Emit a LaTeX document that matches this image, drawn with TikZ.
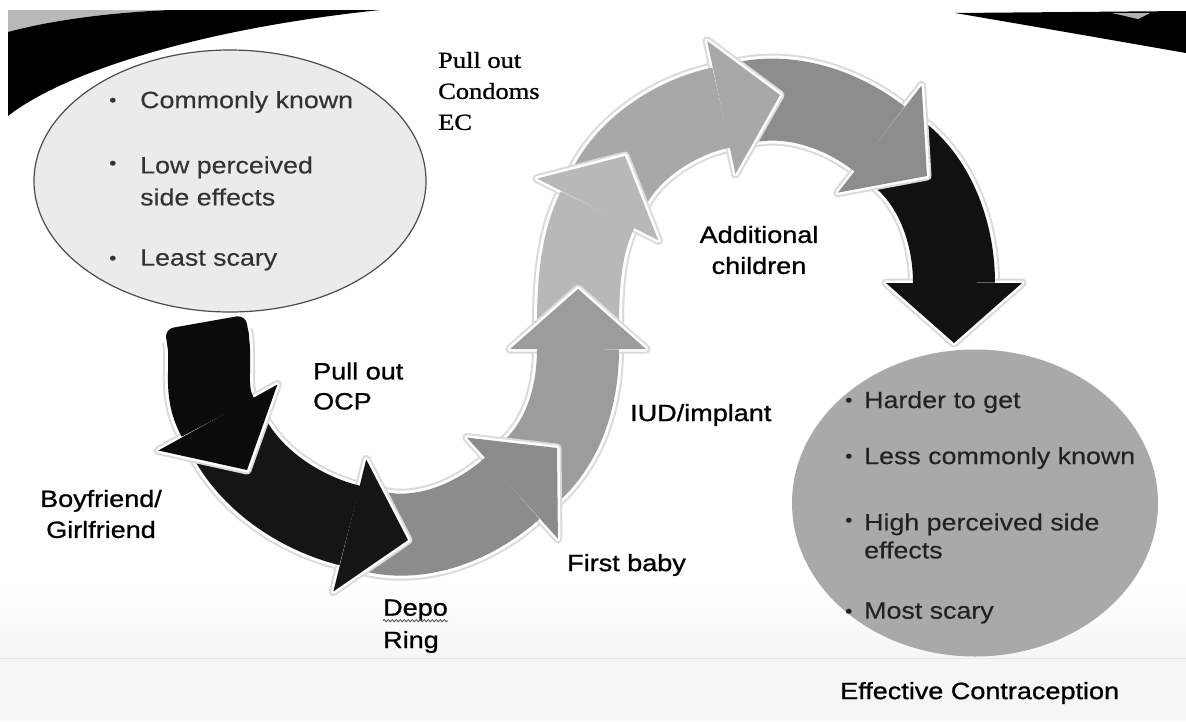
\documentclass[tikz,border=0pt]{standalone}
\usepackage{fontspec}
\setmainfont{Liberation Sans}
\newfontfamily\lbl{Liberation Sans}[FakeStretch=1.15,FakeBold=1.0]
\newfontfamily\itm{Liberation Sans}[FakeStretch=1.14,FakeBold=0.3]
\newfontfamily\srf{Liberation Serif}[FakeStretch=1.15,FakeBold=1.0]
\usetikzlibrary{calc,shapes.geometric,decorations.pathmorphing}

\definecolor{aA}{HTML}{0B0B0B}
\definecolor{aB}{HTML}{151515}
\definecolor{aC}{HTML}{8C8C8C}
\definecolor{aD}{HTML}{9C9C9C}
\definecolor{aE}{HTML}{B8B8B8}
\definecolor{aF}{HTML}{A8A8A8}
\definecolor{aG}{HTML}{8D8D8D}
\definecolor{aH}{HTML}{111111}
\definecolor{lfill}{HTML}{EBEBEB}
\definecolor{rfill}{HTML}{A9A9A9}
\definecolor{ltext}{HTML}{333333}
\definecolor{rtext}{HTML}{222222}
\definecolor{glow}{HTML}{DADADA}

% curved block arrow: #1 tail coord, #2 tail direction, #3 tip coord, #4 tip direction, #5 colour, #6 control length
\newcommand\carrow[6]{%
  \path ($(#3)+({#4+180}:60)$) coordinate (hb);
  \draw[glow, line width=92pt] (#1) .. controls ($(#1)+(#2:#6)$) and ($(hb)+({#4+180}:#6)$) .. (hb);
  \draw[white, line width=88pt] (#1) .. controls ($(#1)+(#2:#6)$) and ($(hb)+({#4+180}:#6)$) .. (hb);
  \draw[glow, line width=9pt, line join=round] ($(hb)!68pt!90:(#3)$) -- (#3) -- ($(hb)!68pt!-90:(#3)$) -- cycle;
  \draw[white, line width=5pt, line join=round] ($(hb)!68pt!90:(#3)$) -- (#3) -- ($(hb)!68pt!-90:(#3)$) -- cycle;
  \draw[#5, line width=82pt] (#1) .. controls ($(#1)+(#2:#6)$) and ($(hb)+({#4+180}:#6)$) .. (hb);
  \fill[#5] ($(hb)!68pt!90:(#3)$) -- (#3) -- ($(hb)!68pt!-90:(#3)$) -- cycle;
}

\tikzset{
  lab/.style={font=\lbl\fontsize{23.5}{30}\selectfont, text=black, inner sep=0pt, align=left, anchor=west},
  labc/.style={font=\lbl\fontsize{23.5}{31}\selectfont, text=black, inner sep=0pt, align=center},
  itl/.style={font=\itm\fontsize{23.5}{32}\selectfont, text=ltext, inner sep=0pt, align=left, anchor=west},
  itr/.style={font=\itm\fontsize{23.5}{28}\selectfont, text=rtext, inner sep=0pt, align=left, anchor=west},
  bul/.style={font=\itm\fontsize{18}{20}\selectfont, inner sep=0pt, anchor=west},
  serif/.style={font=\srf\fontsize{23}{31}\selectfont, text=black, inner sep=0pt, align=left, anchor=west},
}

\begin{document}
\begin{tikzpicture}[x=1pt,y=-1pt]
\useasboundingbox (0,0) rectangle (1186,721);
\fill[white] (0,0) rectangle (1186,721);
% faint bottom band
\shade[top color=white, bottom color=gray!7] (0,580) rectangle (1186,658);
\fill[gray!7] (0,658) rectangle (1186,721);
\draw[gray!18, line width=1pt] (0,658) -- (1186,658);

% top swooshes
\fill[gray!55] (8,10) -- (170,10) .. controls (100,13) and (45,22) .. (8,32) -- cycle;
\fill[black] (8,32) .. controls (45,22) and (100,13) .. (170,10) -- (380,10) .. controls (190,30) and (60,75) .. (8,116) -- cycle;
\fill[black] (955,13) -- (1186,11) -- (1186,53) .. controls (1100,38) and (1020,24) .. (955,13) -- cycle;
\fill[gray!60] (1112,13) -- (1150,13) -- (1138,19) -- cycle;

% ellipses
\node[ellipse, draw=black!70, line width=1.2pt, fill=lfill, minimum width=392pt, minimum height=262pt, inner sep=0pt] (lell) at (230,181) {};
\node[ellipse, fill=rfill, minimum width=366pt, minimum height=307pt, inner sep=0pt] (rell) at (975,503) {};

% arrow tips
\coordinate (P1) at (247,470);
\coordinate (P2) at (408,540);
\coordinate (P3) at (557,448);
\coordinate (P4) at (578,289);
\coordinate (P5) at (625,156);
\coordinate (P6) at (780,95);
\coordinate (P7) at (927,176);
\coordinate (P8) at (954,343);
% arrow tails
\coordinate (T1) at (205,322);
\coordinate (T1b) at ($(T1)+(80:14)$);
\coordinate (T2) at ($(P1)+({61+180}:36)$);
\coordinate (T3) at ($(P2)+({14+180}:36)$);
\coordinate (T4) at ($(P3)+({-42+180}:36)$);
\coordinate (T5) at ($(P4)+({-90+180}:36)$);
\coordinate (T6) at ($(P5)+({-63+180}:36)$);
\coordinate (T7) at ($(P6)+({-12+180}:36)$);
\coordinate (T8) at ($(P7)+({38+180}:36)$);

\carrow{T8}{38}{P8}{90}{aH}{48}
\carrow{T7}{-12}{P7}{38}{aG}{48}
\carrow{T6}{-63}{P6}{-12}{aF}{46}
\carrow{T5}{-90}{P5}{-63}{aE}{38}
\carrow{T4}{-42}{P4}{-90}{aD}{46}
\carrow{T3}{14}{P3}{-42}{aC}{50}
\carrow{T2}{61}{P2}{14}{aB}{50}
% first arrow with rounded top
\draw[white, line width=5pt, rounded corners=9pt] ($(T1)+(-10:41)$) -- ($(T1)+(170:41)$) -- ($(T1)+(170:41)+(80:30)$) -- ($(T1)+(-10:41)+(80:30)$) -- cycle;
\carrow{T1b}{80}{P1}{61}{aA}{32}
\fill[aA, rounded corners=9pt] ($(T1)+(-10:41)$) -- ($(T1)+(170:41)$) -- ($(T1)+(170:41)+(80:30)$) -- ($(T1)+(-10:41)+(80:30)$) -- cycle;

% left ellipse text
\node[bul, text=ltext] (lb1) at (109,102) {•};
\node[itl] (li1) at (140,102) {Commonly known};
\node[bul, text=ltext] (lb2) at (109,165) {•};
\node[itl] (li2) at (140,181) {Low perceived\\side effects};
\node[bul, text=ltext] (lb3) at (109,260) {•};
\node[itl] (li3) at (140,260) {Least scary};

% right ellipse text
\node[bul, text=rtext] (rb1) at (845,402) {•};
\node[itr] (ri1) at (864,402) {Harder to get};
\node[bul, text=rtext] (rb2) at (845,458) {•};
\node[itr] (ri2) at (864,458) {Less commonly known};
\node[bul, text=rtext] (rb3) at (845,522) {•};
\node[itr] (ri3) at (864,536) {High perceived side\\effects};
\node[bul, text=rtext] (rb4) at (845,613) {•};
\node[itr] (ri4) at (864,613) {Most scary};

% labels
\node[serif] (pce) at (438,91) {Pull out\\Condoms\\EC};
\node[labc] (addc) at (759,250) {Additional\\children};
\node[lab] (iud) at (630,415) {IUD/implant};
\node[lab] (pocp) at (313,386) {Pull out\\OCP};
\node[labc] (bfgf) at (101,514) {Boyfriend/\\Girlfriend};
\node[lab] (fb) at (567,565) {First baby};
\node[lab] (depo) at (383,610) {Depo};
\node[lab] (ring) at (383,642) {Ring};
\draw[decorate, decoration={snake, amplitude=1.1pt, segment length=4pt}, black!70, line width=0.8pt]
  ($(depo.base west)+(0,5)$) -- ($(depo.base east)+(0,5)$);
\node[lab] (effc) at (840,693) {Effective Contraception};
\end{tikzpicture}
\end{document}
